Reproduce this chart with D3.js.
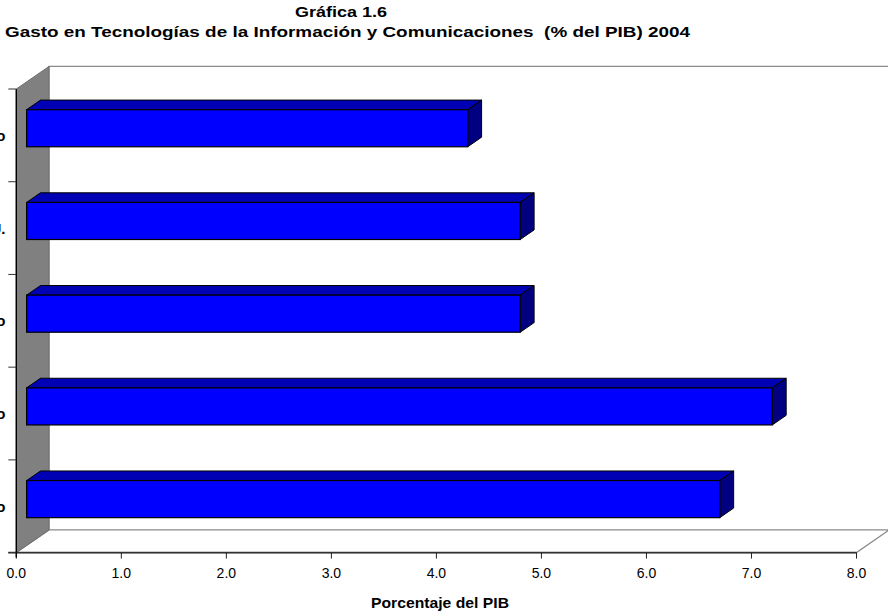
<!DOCTYPE html>
<html>
<head>
<meta charset="utf-8">
<script src="https://cdn.jsdelivr.net/npm/d3@7"></script>
<style>
  html, body { margin: 0; padding: 0; background: #fff; }
  svg { display: block; }
  text { font-family: "Liberation Sans", Arial, sans-serif; }
</style>
</head>
<body>
<svg id="chart" width="888" height="613"></svg>
<script>
// Gasto en TIC (% del PIB), 2004 — categorías de arriba hacia abajo
const categories = ["México", "EE.UU.", "Mundo", "Reino Unido", "Japón y Pacífico"];
const values = [4.2, 4.7, 4.7, 7.1, 6.6];
const xTicks = [0, 1, 2, 3, 4, 5, 6, 7, 8];
const titleLines = ["Gráfica 1.6", "Gasto en Tecnologías de la Información y Comunicaciones  (% del PIB) 2004"];
const xTitle = "Porcentaje del PIB";

const svg = d3.select("#chart");

// front plane of the 3D box
const x = d3.scaleLinear().domain([0, 8]).range([16.3, 856.5]);
const y = d3.scaleBand().domain(categories).range([89, 552.6])
  .paddingInner(0.6).paddingOuter(0.3);
// depth vector (front -> back)
const DX = 32.7, DY = -22.6;
const depth0 = 0.315, depth1 = 0.74;

const x0 = x(0), x8 = x(8), yTop = 89, yBot = 552.6;
const pts = a => a.map(p => p.join(",")).join(" ");

// back wall
svg.append("polygon")
  .attr("points", pts([[x0 + DX, yTop + DY], [x8 + DX, yTop + DY], [x8 + DX, yBot + DY], [x0 + DX, yBot + DY]]))
  .attr("fill", "#fff").attr("stroke", "#8a8a8a").attr("stroke-width", 1.2);

// floor
svg.append("polygon")
  .attr("points", pts([[x0, yBot], [x0 + DX, yBot + DY], [x8 + DX, yBot + DY], [x8, yBot]]))
  .attr("fill", "#fff").attr("stroke", "#8a8a8a").attr("stroke-width", 1.2);

// left (side) wall
svg.append("polygon")
  .attr("points", pts([[x0, yTop], [x0 + DX, yTop + DY], [x0 + DX, yBot + DY], [x0, yBot]]))
  .attr("fill", "#808080").attr("stroke", "#6e6e6e").attr("stroke-width", 1);

// value axis line and ticks
svg.append("line").attr("x1", 8.3).attr("x2", x8).attr("y1", yBot).attr("y2", yBot)
  .attr("stroke", "#333").attr("stroke-width", 1.6);
svg.selectAll(".xtick").data(xTicks).join("line")
  .attr("x1", d => x(d)).attr("x2", d => x(d))
  .attr("y1", yBot).attr("y2", yBot + 6)
  .attr("stroke", "#222").attr("stroke-width", 1);
svg.selectAll(".xlab").data(xTicks).join("text")
  .attr("x", d => x(d)).attr("y", 578)
  .attr("text-anchor", "middle").attr("font-size", 14).attr("fill", "#000")
  .text(d => d.toFixed(1));

// category axis line and ticks
svg.append("line").attr("x1", x0).attr("x2", x0).attr("y1", yTop).attr("y2", yBot + 5)
  .attr("stroke", "#000").attr("stroke-width", 1.4);
const catEdges = categories.map(c => y(c) - y.step() * y.paddingInner() / 2).concat([yBot]);
svg.selectAll(".ytick").data(catEdges).join("line")
  .attr("x1", 8.3).attr("x2", x0).attr("y1", d => d).attr("y2", d => d)
  .attr("stroke", "#333").attr("stroke-width", 1);
svg.selectAll(".ylab").data(categories).join("text")
  .attr("x", 5.5).attr("y", d => y(d) + y.bandwidth() / 2 + 5.5)
  .attr("text-anchor", "end").attr("font-size", 15).attr("font-weight", "bold").attr("fill", "#000")
  .text(d => d);

// 3D bars
const ox0 = DX * depth0, oy0 = DY * depth0, ox1 = DX * depth1, oy1 = DY * depth1;
const bars = svg.selectAll(".bar").data(categories.map((c, i) => ({ c, v: values[i] }))).join("g");
bars.append("polygon") // top face
  .attr("points", d => {
    const t = y(d.c), a = x(0), b = x(d.v);
    return pts([[a + ox0, t + oy0], [a + ox1, t + oy1], [b + ox1, t + oy1], [b + ox0, t + oy0]]);
  })
  .attr("fill", "#0000b4").attr("stroke", "#000").attr("stroke-width", 1).attr("stroke-linejoin", "round");
bars.append("polygon") // end face
  .attr("points", d => {
    const t = y(d.c), bt = t + y.bandwidth(), b = x(d.v);
    return pts([[b + ox0, t + oy0], [b + ox1, t + oy1], [b + ox1, bt + oy1], [b + ox0, bt + oy0]]);
  })
  .attr("fill", "#000080").attr("stroke", "#000").attr("stroke-width", 1).attr("stroke-linejoin", "round");
bars.append("rect") // front face
  .attr("x", x(0) + ox0).attr("y", d => y(d.c) + oy0)
  .attr("width", d => x(d.v) - x(0)).attr("height", y.bandwidth())
  .attr("fill", "#0000ff").attr("stroke", "#000").attr("stroke-width", 1.2);

// titles
svg.append("text").attr("x", 341).attr("y", 17).attr("text-anchor", "middle")
  .attr("font-size", 15).attr("font-weight", "bold")
  .attr("textLength", 92).attr("lengthAdjust", "spacingAndGlyphs").text(titleLines[0]);
svg.append("text").attr("x", 347.5).attr("y", 37).attr("text-anchor", "middle")
  .attr("font-size", 15).attr("font-weight", "bold").style("white-space", "pre")
  .attr("textLength", 685).attr("lengthAdjust", "spacingAndGlyphs").text(titleLines[1]);
svg.append("text").attr("x", 440).attr("y", 608).attr("text-anchor", "middle")
  .attr("font-size", 14).attr("font-weight", "bold")
  .attr("textLength", 138).attr("lengthAdjust", "spacingAndGlyphs").text(xTitle);
</script>
</body>
</html>
